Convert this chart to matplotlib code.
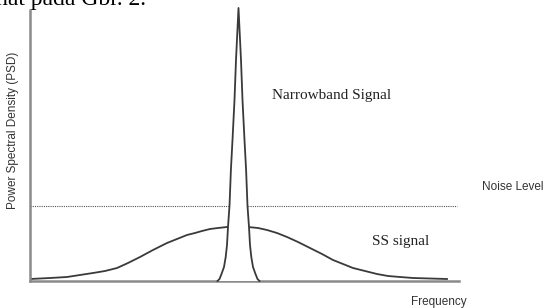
import matplotlib
matplotlib.use("Agg")
import matplotlib.pyplot as plt

W, H = 544, 308

# broad spread-spectrum signal
ss_x = [0, 20, 37, 50, 63, 75, 87, 98, 110, 123, 137, 147, 157, 165, 172, 180, 188, 197,
        208, 218, 228, 237, 247, 257, 268, 280, 292, 303, 313, 323, 335, 347, 358, 370,
        383, 400, 417]
ss_y = [2, 3, 4, 6, 8, 10, 13, 18, 24, 31, 38, 42, 46, 48, 50, 52, 53, 54,
        55, 54, 53, 51, 48, 44, 39, 33, 27, 21, 17, 13, 10, 7, 5, 4,
        3, 2.5, 2]

# narrowband spike
nb_x = [187.5, 189.5, 191.5, 194, 195.7, 197, 198, 199.5, 200.9, 202.5, 204.5, 206, 208.5,
        211, 212.5, 214.5, 216.1, 217.5, 219, 220, 221.3, 223, 225.5, 227.5, 229.5]
nb_y = [0, 2, 7, 14, 24, 36, 54, 75, 111, 141, 181, 221, 273,
        221, 181, 141, 111, 75, 54, 36, 24, 14, 7, 2, 0]

noise_level = 75

fig = plt.figure(figsize=(W / 100, H / 100), dpi=100)
ax = fig.add_axes([30 / W, (H - 281) / H, 429 / W, 271 / H])
ax.set_xlim(0, 429)
ax.set_ylim(0, 271)

ax.plot(ss_x, ss_y, color="#3a3a3a", lw=1.3, zorder=2)
ax.fill(nb_x, nb_y, facecolor="white", edgecolor="none", zorder=3, clip_on=False)
ax.plot(nb_x, nb_y, color="#3a3a3a", lw=1.3, zorder=4, clip_on=False)
ax.plot([0, 427], [noise_level, noise_level], color="#555555", lw=0.8,
        linestyle=(0, (1, 1)), zorder=1)

for s in ["top", "right"]:
    ax.spines[s].set_visible(False)
for s in ["left", "bottom"]:
    ax.spines[s].set_color("#8a8a8a")
    ax.spines[s].set_linewidth(1.8)
ax.set_xticks([])
ax.set_yticks([])


def px(x, y):
    return x / W, 1 - y / H


sans = "Liberation Sans"
serif = "Liberation Serif"
fig.text(*px(-4, 5), "hat pada Gbr. 2.", family=serif, fontsize=17, va="baseline", ha="left")
fig.text(*px(13, 130), "Power Spectral Density (PSD)", family=sans, fontsize=8.5,
         rotation=90, ha="center", va="center", color="#333333")
fig.text(*px(482, 187), "Noise Level", family=sans, fontsize=8.5, va="center", color="#333333")
fig.text(*px(411, 302), "Frequency", family=sans, fontsize=8.5, va="center", color="#333333")
fig.text(*px(272, 95), "Narrowband Signal", family=serif, fontsize=11, va="center", color="#222222")
fig.text(*px(372, 241), "SS signal", family=serif, fontsize=11, va="center", color="#222222")

fig.savefig("out.png", dpi=100)
